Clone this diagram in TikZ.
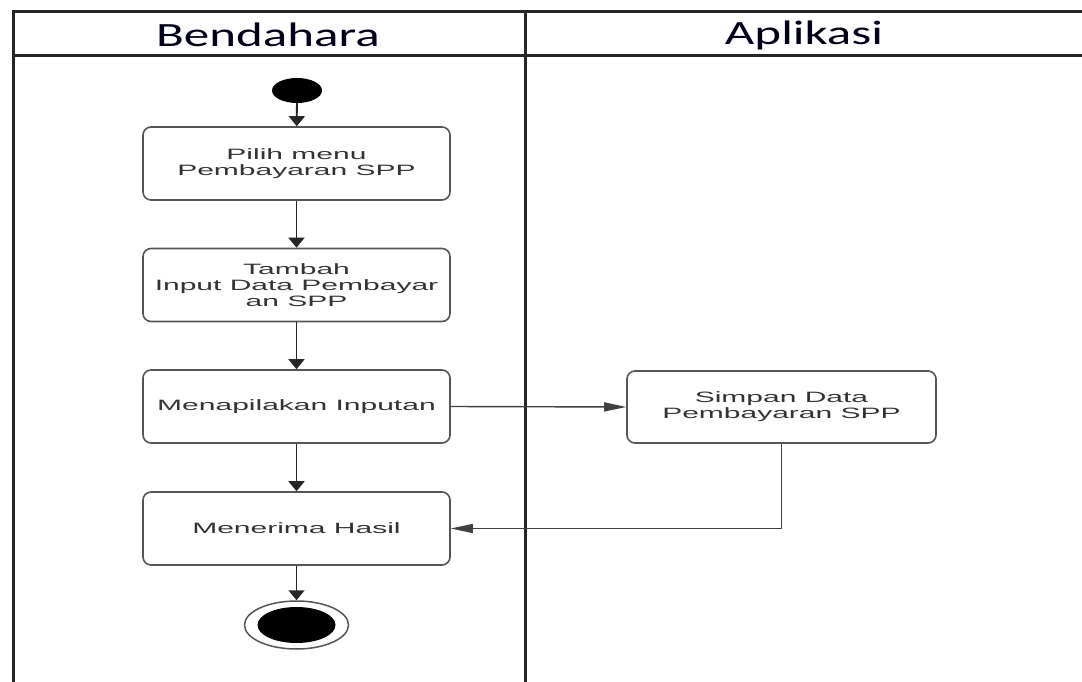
\documentclass[tikz,border=0pt]{standalone}
\usepackage{fontspec}
\usetikzlibrary{arrows.meta,shapes.geometric}
\newfontfamily\boxfont[FakeStretch=2.0]{Liberation Sans}
\newfontfamily\headfont[FakeStretch=1.5]{Carlito}
\definecolor{boxline}{HTML}{555555}
\definecolor{txtgray}{HTML}{333333}
\tikzset{
  actbox/.style={draw=boxline, line width=1.6pt, rounded corners=8pt, fill=white,
    minimum width=307pt, minimum height=73pt, align=center, text=txtgray,
    font=\boxfont\fontsize{15}{16}\selectfont, inner sep=0pt},
  vflow/.style={draw=black!85, line width=1.8pt, -{Triangle[width=16pt,length=10pt]}},
  hflow/.style={draw=black!75, line width=1.4pt, -{Triangle[width=9pt,length=22pt]}},
  lane/.style={draw=black!85, line width=3pt},
  headtxt/.style={font=\headfont\fontsize{34}{36}\selectfont, text=black!90!blue}
}
\begin{document}
\begin{tikzpicture}[x=1pt,y=-1pt]
\useasboundingbox (0,0) rectangle (1082,682);
\fill[white] (0,0) rectangle (1082,682);
% swimlane frame
\draw[lane] (13,682) -- (13,11.5) -- (1082,11.5);
\draw[lane] (13,56) -- (1082,56);
\draw[lane] (525,11.5) -- (525,682);
\node[headtxt] (h1) at (268,35) {Bendahara};
\node[headtxt] (h2) at (804,35) {Aplikasi};
% nodes
\node[ellipse, fill=black, minimum width=50pt, minimum height=25pt, inner sep=0pt] (start) at (297,90.5) {};
\node[actbox] (b1) at (296.5,163.5) {Pilih menu\\Pembayaran SPP};
\node[actbox] (b2) at (296.5,285) {Tambah\\Input Data Pembayar\\an SPP};
\node[actbox] (b3) at (296.5,406.5) {Menapilakan Inputan};
\node[actbox] (b4) at (296.5,528.5) {Menerima Hasil};
\node[actbox, minimum width=309pt, minimum height=72pt] (s1) at (781.5,407) {Simpan Data\\Pembayaran SPP};
\node[ellipse, draw=boxline, line width=1.5pt, minimum width=104pt, minimum height=48pt, inner sep=0pt] (endo) at (296.5,625) {};
\node[ellipse, fill=black, minimum width=78pt, minimum height=36pt, inner sep=0pt] (endi) at (296.5,625) {};
% connectors
\draw[vflow] (start) -- (b1);
\draw[vflow] (b1) -- (b2);
\draw[vflow] (b2) -- (b3);
\draw[vflow] (b3) -- (b4);
\draw[vflow] (b4) -- (endo);
\draw[hflow] (b3.east) -- (s1.west);
\draw[hflow] (s1.south) |- (b4.east);
\end{tikzpicture}
\end{document}
